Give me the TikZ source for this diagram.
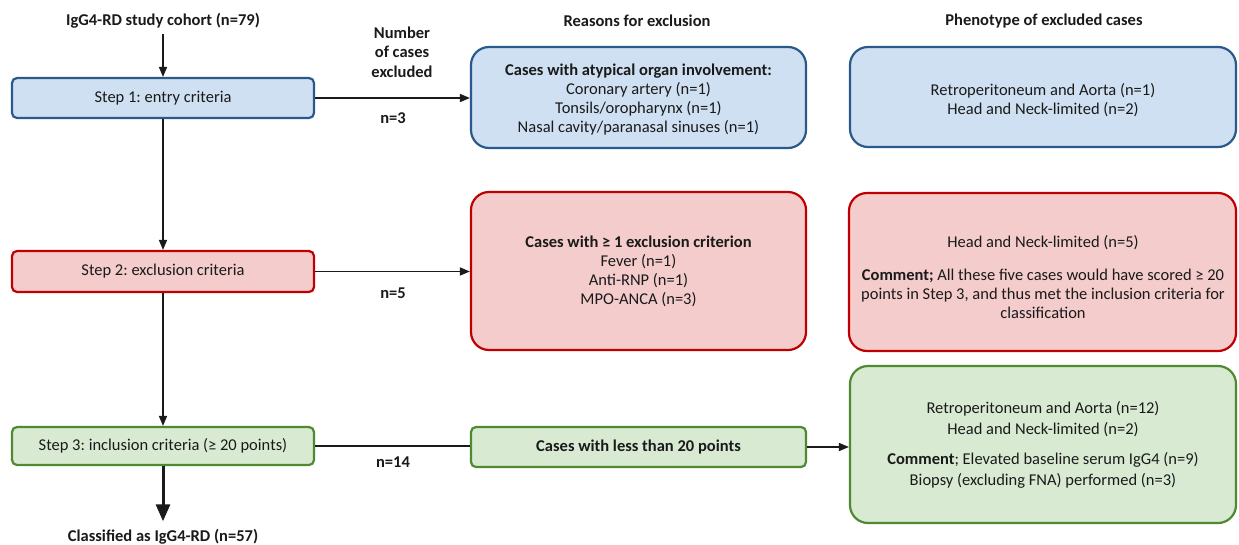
\documentclass[tikz,border=0pt]{standalone}
\usepackage{fontspec}
\setmainfont{Carlito}
\usetikzlibrary{arrows.meta}
\definecolor{bluefill}{HTML}{CFE0F2}
\definecolor{blueline}{HTML}{2A5A8C}
\definecolor{redfill}{HTML}{F4CCCC}
\definecolor{redline}{HTML}{C00000}
\definecolor{greenfill}{HTML}{D9EAD3}
\definecolor{greenline}{HTML}{4F8A33}
\definecolor{ink}{HTML}{1A1A1A}
\frenchspacing
\begin{document}
\frenchspacing
\begin{tikzpicture}[x=1pt,y=-1pt,
  every node/.style={text=ink, font=\fontsize{16.5}{19}\selectfont},
  boxbase/.style={draw, line width=2.2pt, inner sep=0pt},
  stepbox/.style={boxbase, rounded corners=5pt, minimum width=302pt},
  bigbox/.style={boxbase, rounded corners=18pt},
  bluebox/.style={fill=bluefill, draw=blueline},
  redbox/.style={fill=redfill, draw=redline},
  greenbox/.style={fill=greenfill, draw=greenline},
  txt/.style={align=center, inner sep=0pt},
  hdr/.style={font=\fontsize{16.5}{19.5}\selectfont\bfseries, align=center, inner sep=0pt},
  conn/.style={draw=ink, line width=1.6pt},
  arr/.style={conn, -{Triangle[length=10pt,width=8pt]}},
  thickarr/.style={draw=ink, line width=3pt, -{Triangle[length=17pt,width=14pt]}}]
\useasboundingbox (0,0) rectangle (1239,544);
\fill[white] (0,0) rectangle (1239,544);

% headers
\node[hdr] (title) at (163,21) {IgG4-RD study cohort (n=79)};
\node[hdr] (numhdr) at (402,52) {Number\\of cases\\excluded};
\node[hdr] (reahdr) at (637,21) {Reasons for exclusion};
\node[hdr] (phehdr) at (1044,21) {Phenotype of excluded cases};

% steps
\node[stepbox, bluebox, minimum height=40pt] (s1) at (163,98) {Step 1: entry criteria};
\node[stepbox, redbox, minimum height=41pt] (s2) at (163,271.5) {Step 2: exclusion criteria};
\node[stepbox, greenbox, minimum height=38pt] (s3) at (163,446) {Step 3: inclusion criteria (≥ 20 points)};
\node[hdr] (cls) at (163,537) {Classified as IgG4-RD (n=57)};

% reasons
\node[bigbox, bluebox, minimum width=335pt, minimum height=101pt] (r1) at (638.5,97.5) {};
\node[txt] (r1t) at (638.5,100) {\textbf{Cases with atypical organ involvement:}\\Coronary artery (n=1)\\Tonsils/oropharynx (n=1)\\Nasal cavity/paranasal sinuses (n=1)};
\node[bigbox, redbox, minimum width=335pt, minimum height=158pt] (r2) at (638.5,271) {};
\node[txt] (r2t) at (638.5,271) {\textbf{Cases with ≥ 1 exclusion criterion}\\Fever (n=1)\\Anti-RNP (n=1)\\MPO-ANCA (n=3)};
\node[stepbox, greenbox, minimum width=335pt, minimum height=40pt, font=\fontsize{16.5}{19}\selectfont\bfseries] (r3) at (638.5,447) {Cases with less than 20 points};

% phenotypes
\node[bigbox, bluebox, minimum width=386pt, minimum height=100pt] (p1) at (1043,97) {};
\node[txt] (p1t) at (1043,100) {Retroperitoneum and Aorta (n=1)\\Head and Neck-limited (n=2)};
\node[bigbox, redbox, minimum width=387pt, minimum height=158pt] (p2) at (1042.5,272) {};
\node[txt] (p2t) at (1043,277) {Head and Neck-limited (n=5)\\[14pt]\textbf{Comment;} All these five cases would have scored ≥ 20\\points in Step 3, and thus met the inclusion criteria for\\classification};
\node[bigbox, greenbox, minimum width=386pt, minimum height=157pt] (p3) at (1043,444.5) {};
\node[txt, font=\fontsize{16.5}{20.5}\selectfont] (p3t) at (1043,445) {Retroperitoneum and Aorta (n=12)\\Head and Neck-limited (n=2)\\[10pt]\textbf{Comment}; Elevated baseline serum IgG4 (n=9)\\Biopsy (excluding FNA) performed (n=3)};

% n labels
\node[hdr] (n1) at (393,118) {n=3};
\node[hdr] (n2) at (393,293) {n=5};
\node[hdr] (n3) at (393,462) {n=14};

% connectors
\draw[arr, shorten <=5pt] (title) -- (s1);
\draw[arr] (s1) -- (s2);
\draw[arr] (s2) -- (s3);
\draw[thickarr, shorten >=8pt] (s3) -- (cls);
\draw[arr] (s1.east) -- (s1.east -| r1.west);
\draw[arr] (s2.east) -- (s2.east -| r2.west);
\draw[conn] (s3.east) -- (s3.east -| r3.west);
\draw[arr] (r3.east) -- (r3.east -| p3.west);
\end{tikzpicture}
\end{document}
